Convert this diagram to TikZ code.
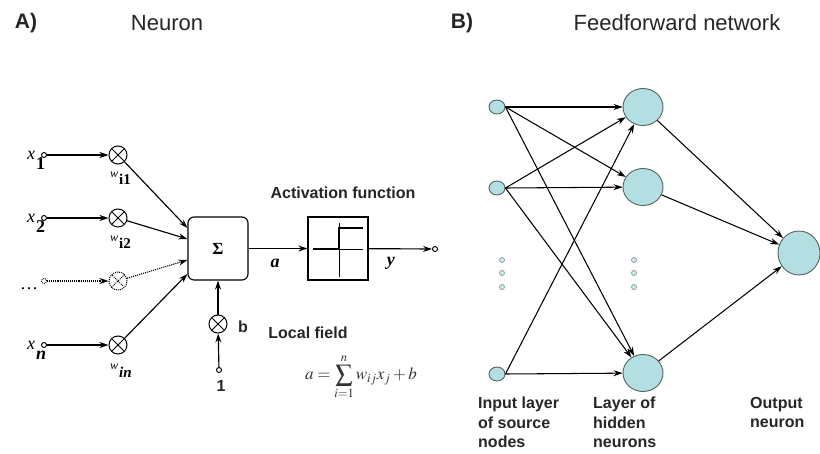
\documentclass[tikz,border=0pt]{standalone}
\usepackage{mathptmx}
\usepackage{fontspec}
\setmainfont{Liberation Serif}
\setsansfont{Liberation Sans}
\usetikzlibrary{arrows.meta,shapes.geometric,calc}
\definecolor{nfill}{HTML}{B3DEE2}
\definecolor{nline}{HTML}{4F6464}
\definecolor{dotc}{HTML}{7C9A9A}
\begin{document}
\begin{tikzpicture}[x=1pt,y=-1pt,
  lbl/.style={font=\sffamily\bfseries\fontsize{16}{20}\selectfont, text=black!85, inner sep=0},
  ttl/.style={font=\sffamily\fontsize{22}{26}\selectfont, text=black!85, inner sep=0},
  ttlb/.style={font=\sffamily\bfseries\fontsize{21}{26}\selectfont, text=black!85, inner sep=0},
  ser/.style={font=\fontsize{18}{20}\selectfont, inner sep=0},
  conn/.style={line width=1.15pt, -{Stealth[length=9pt,width=6pt]}},
  dconn/.style={line width=1.1pt, densely dotted, -{Stealth[length=9pt,width=6pt]}},
  mult/.style={circle, draw, line width=1pt, minimum size=18pt, inner sep=0},
  term/.style={circle, draw, line width=0.9pt, minimum size=5pt, inner sep=0, fill=white},
  neu/.style={ellipse, draw=nline, fill=nfill, line width=0.9pt, inner sep=0},
  vdot/.style={circle, draw=dotc, fill=nfill!60, line width=0.7pt, minimum size=5pt, inner sep=0},
  net/.style={line width=1.05pt, -{Stealth[length=9pt,width=6pt]}}
]
\useasboundingbox (0,0) rectangle (820,453);
\fill[white] (0,0) rectangle (820,453);

% titles
\node[ttlb] (tA) at (26,23) {A)};
\node[ttl] (tN) at (167,23) {Neuron};
\node[ttlb] (tB) at (462,23) {B)};
\node[ttl] (tF) at (677,23) {Feedforward network};

% ---------- Neuron ----------
% inputs
\node[term] (i1) at (44,155) {};
\node[term] (i2) at (44,218) {};
\node[term, densely dotted] (i3) at (44,281) {};
\node[term] (in) at (44,345) {};

\node[ser, anchor=base west] (lx1) at (27,159) {\textit{x}\kern1pt\raisebox{-10pt}{\textbf{1}}};
\node[ser, anchor=base west] (lx2) at (27,222) {\textit{x}\kern1pt\raisebox{-10pt}{\textbf{2}}};
\node[ser, anchor=base west] (lx3) at (20,289) {\dots};
\node[ser, anchor=base west] (lxn) at (27,349) {\textit{x}\kern1pt\raisebox{-10pt}{\textbf{\textit{n}}}};

% multipliers
\node[mult] (m1) at (118,155) {};
\node[mult] (m2) at (118,218) {};
\node[mult, densely dotted] (m3) at (118,281) {};
\node[mult] (mn) at (118,345) {};
\foreach \n in {m1,m2,mn}
  \draw[line width=1pt, shorten >=1.5pt, shorten <=1.5pt] (\n.45)--(\n.225) (\n.135)--(\n.315);
\draw[line width=1pt, densely dotted, shorten >=1.5pt, shorten <=1.5pt] (m3.45)--(m3.225) (m3.135)--(m3.315);

% weight labels
\node[ser, anchor=base west] (w1) at (110,177) {{\fontsize{12}{14}\selectfont\textit{w}}\kern1pt\raisebox{-7pt}{\fontsize{15}{17}\selectfont\textbf{i1}}};
\node[ser, anchor=base west] (w2) at (110,241) {{\fontsize{12}{14}\selectfont\textit{w}}\kern1pt\raisebox{-7pt}{\fontsize{15}{17}\selectfont\textbf{i2}}};
\node[ser, anchor=base west] (wn) at (110,369) {{\fontsize{12}{14}\selectfont\textit{w}}\kern1pt\raisebox{-8pt}{\fontsize{15}{17}\selectfont\textbf{\textit{in}}}};

\draw[conn] (i1) -- (m1);
\draw[conn] (i2) -- (m2);
\draw[dconn] (i3) -- (m3);
\draw[conn] (in) -- (mn);

% summation box
\node[draw, line width=1.1pt, rounded corners=6pt, minimum width=60pt, minimum height=63pt, inner sep=0] (sum) at (218,248.5) {};
\node[font=\bfseries\fontsize{17}{19}\selectfont, inner sep=0] (sig) at (218,249) {Σ};

\draw[conn] (m1) -- (sum.west |- 0,228);
\draw[conn] (m2) -- (sum.west |- 0,239);
\draw[dconn] (m3) -- (sum.west |- 0,260);
\draw[conn] (mn) -- (sum.west |- 0,274);

% bias
\node[mult] (mb) at (218,324) {};
\draw[line width=1pt, shorten >=1.5pt, shorten <=1.5pt] (mb.45)--(mb.225) (mb.135)--(mb.315);
\node[term] (ib) at (219,370) {};
\draw[conn] (ib) -- (mb);
\draw[conn] (mb) -- (sum);
\node[lbl] (lb) at (243,327) {b};
\node[lbl] (l1) at (221,386) {1};

% activation box
\node[draw, line width=1.1pt, minimum width=60pt, minimum height=63pt, inner sep=0] (act) at (338,248.5) {};
\draw[line width=0.8pt] (313,249) -- (363,249) (339,223) -- (339,277);
\draw[line width=1.5pt] (313,249) -- (339,249) -- (339,228) -- (363,228);
\draw[conn] (sum) -- (act);
\node[ser] (la) at (275,263) {\textit{\textbf{a}}};

\node[term] (out) at (435,249) {};
\draw[conn] (act) -- (out);
\node[ser] (ly) at (391,263) {\textit{\textbf{y}}};

\node[lbl] (lact) at (343,193) {Activation function};
\node[lbl] (lloc) at (308,333) {Local field};
\node[font=\fontsize{17}{19}\selectfont, text=black!80, inner sep=0] (form) at (361,377) {$a=\displaystyle\sum_{i=1}^{n} w_{ij}x_j+b$};

% ---------- Network ----------
\node[neu, minimum width=16pt, minimum height=14pt] (a1) at (497,107) {};
\node[neu, minimum width=16pt, minimum height=14pt] (a2) at (497,188) {};
\node[neu, minimum width=16pt, minimum height=14pt] (a3) at (497,374) {};

\node[neu, minimum width=40pt, minimum height=37pt] (h1) at (643,107) {};
\node[neu, minimum width=40pt, minimum height=37pt] (h2) at (643,187) {};
\node[neu, minimum width=40pt, minimum height=37pt] (h3) at (643,373) {};

\node[neu, minimum width=42pt, minimum height=44pt] (o) at (799,253) {};

\foreach \y [count=\k] in {260,273,287} {
  \node[vdot] (da\k) at (502,\y) {};
  \node[vdot] (dh\k) at (634,\y) {};
}

\draw[net] (a1.east) -- (h1);
\draw[net] (a1.east) -- (h2);
\draw[net] (a1.east) -- (h3);
\draw[net] (a2.east) -- (h1);
\draw[net] (a2.east) -- (h2);
\draw[net] (a2.east) -- (h3);
\draw[net] (a3.east) -- (h1);
\draw[net] (a3.east) -- (h3);
\draw[net] (h1) -- (o);
\draw[net] (h2) -- (o);
\draw[net] (h3) -- (o);

\node[lbl, anchor=north west, align=left, font=\sffamily\bfseries\fontsize{16}{19.5}\selectfont] (lin) at (478,397) {Input layer\\of source\\nodes};
\node[lbl, anchor=north west, align=left, font=\sffamily\bfseries\fontsize{16}{19.5}\selectfont] (lhid) at (593,397) {Layer of\\hidden\\neurons};
\node[lbl, anchor=north west, align=left, font=\sffamily\bfseries\fontsize{16}{19.5}\selectfont] (lout) at (750,397) {Output\\neuron};
\end{tikzpicture}
\end{document}
